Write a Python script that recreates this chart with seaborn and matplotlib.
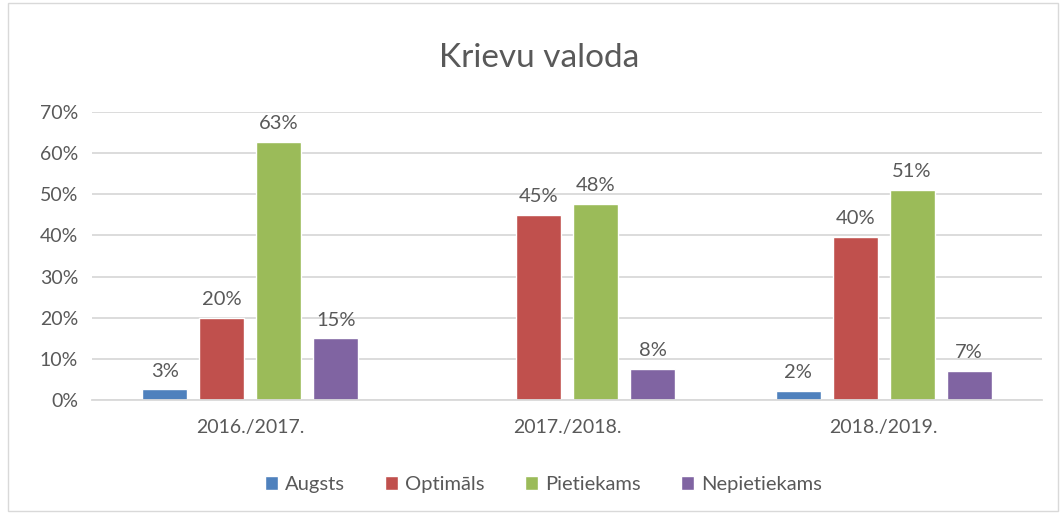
import pandas as pd
import matplotlib.pyplot as plt
import seaborn as sns
from matplotlib.patches import Rectangle

# Values (share of pupils)
years = ['2016./2017.', '2017./2018.', '2018./2019.']
levels = ['Augsts', 'Optimāls', 'Pietiekams', 'Nepietiekams']
augsts = [0.026, 0.0, 0.023]
optimals = [0.200, 0.450, 0.396]
pietiekams = [0.627, 0.476, 0.511]
nepietiekams = [0.150, 0.075, 0.071]
colors = ['#4F81BD', '#C0504D', '#9BBB59', '#8064A2']

rows = []
for lvl, vals in zip(levels, [augsts, optimals, pietiekams, nepietiekams]):
    for yr, v in zip(years, vals):
        rows.append({'Gads': yr, 'Līmenis': lvl, 'Vērtība': v})
df = pd.DataFrame(rows)

sns.set_style('white')
plt.rcParams['font.family'] = ['Lato', 'DejaVu Sans']
text_col = '#595959'

fig = plt.figure(figsize=(10.61, 5.13), dpi=100)
ax = fig.add_axes([0.0867, 0.2203, 0.8953, 0.5614])

sns.barplot(data=df, x='Gads', y='Vērtība', hue='Līmenis', hue_order=levels,
            palette=colors, saturation=1, width=0.72, gap=0.21, ax=ax, legend=True)

# data labels, skip empty bars
for cont in ax.containers:
    labels = ['' if v <= 0 else f'{v*100:.0f}%' for v in cont.datavalues]
    ax.bar_label(cont, labels=labels, padding=7, fontsize=14.5, color=text_col)

ax.set_ylim(0, 0.7)
ax.set_yticks([i / 10 for i in range(8)])
ax.set_yticklabels([f'{i*10}%' for i in range(8)])
ax.yaxis.grid(True, color='#D9D9D9', linewidth=1.3)
ax.set_axisbelow(True)
ax.tick_params(axis='y', length=0, labelsize=14, colors=text_col, pad=10)
ax.tick_params(axis='x', length=0, labelsize=14, colors=text_col, pad=14)
ax.set_xlabel('')
ax.set_ylabel('')
for s in ['top', 'left', 'right']:
    ax.spines[s].set_visible(False)
ax.spines['bottom'].set_color('#D9D9D9')
ax.spines['bottom'].set_linewidth(1.3)

handles, labs = ax.get_legend_handles_labels()
ax.get_legend().remove()
fig.legend(handles, labs, loc='center', bbox_to_anchor=(0.512, 0.055), ncol=4,
           frameon=False, fontsize=14.5, handlelength=0.65, handleheight=0.65,
           handletextpad=0.35, columnspacing=2.0, labelcolor=text_col)

fig.text(0.508, 0.887, 'Krievu valoda', ha='center', va='center',
         fontsize=24, color=text_col)

fig.patches.append(Rectangle((8 / 1061, 2 / 513), 1050 / 1061, 508 / 513,
                             transform=fig.transFigure, fill=False,
                             edgecolor='#D9D9D9', linewidth=1))

fig.savefig('out.png', dpi=100)
